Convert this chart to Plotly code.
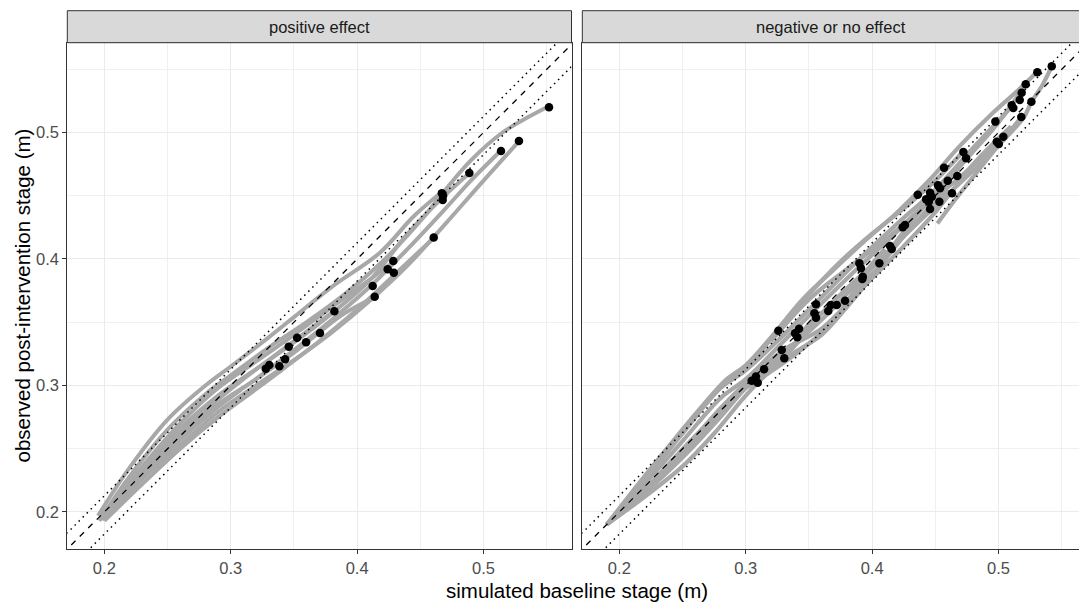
import plotly.graph_objects as go

# ---------------- data ----------------
panel_titles = ["positive effect", "negative or no effect"]
x_title = "simulated baseline stage (m)"
y_title = "observed post-intervention stage (m)"
tick_vals = [0.2, 0.3, 0.4, 0.5]
tick_text = ["0.2", "0.3", "0.4", "0.5"]

# reference band offsets (dotted lines) around the 1:1 line
upper_offset = 0.0128
lower_offset = -0.0175

# positive effect: observed points
pos_x = [0.5518, 0.528, 0.5138, 0.4888, 0.467, 0.4677, 0.468, 0.4606, 0.4286, 0.4242,
         0.429, 0.4123, 0.4139, 0.382, 0.3706, 0.3525, 0.3596, 0.3459, 0.343, 0.3385,
         0.3305, 0.3277]
pos_y = [0.520, 0.4933, 0.4854, 0.468, 0.452, 0.4466, 0.450, 0.417, 0.3984, 0.3919,
         0.3892, 0.3787, 0.3702, 0.3587, 0.3415, 0.3378, 0.3341, 0.3307, 0.3207, 0.3152,
         0.3162, 0.3133]

# positive effect: response curves
p1_x = [0.195, 0.22, 0.25, 0.28, 0.30, 0.33, 0.35, 0.38, 0.418, 0.445, 0.467]
p1_y = [0.197, 0.235, 0.273, 0.300, 0.315, 0.338, 0.354, 0.378, 0.405, 0.434, 0.453]
p2_x = [0.196, 0.22, 0.25, 0.28, 0.30, 0.33, 0.36, 0.39, 0.42, 0.45, 0.47, 0.49, 0.515, 0.535, 0.552]
p2_y = [0.193, 0.228, 0.265, 0.293, 0.308, 0.330, 0.350, 0.372, 0.398, 0.430, 0.455, 0.478, 0.500, 0.512, 0.521]
p3_x = [0.197, 0.23, 0.26, 0.29, 0.32, 0.35, 0.38, 0.41, 0.44, 0.468, 0.489]
p3_y = [0.195, 0.233, 0.266, 0.292, 0.313, 0.334, 0.357, 0.383, 0.420, 0.449, 0.468]
p4_x = [0.198, 0.23, 0.26, 0.29, 0.32, 0.35, 0.38, 0.41, 0.44, 0.47, 0.49, 0.514]
p4_y = [0.194, 0.228, 0.258, 0.285, 0.305, 0.328, 0.352, 0.378, 0.408, 0.440, 0.462, 0.486]
p5_x = [0.20, 0.23, 0.26, 0.29, 0.32, 0.35, 0.38, 0.41, 0.44, 0.47, 0.50, 0.528]
p5_y = [0.194, 0.226, 0.253, 0.279, 0.300, 0.320, 0.342, 0.367, 0.395, 0.428, 0.462, 0.493]
p6_x = [0.20, 0.23, 0.26, 0.29, 0.32, 0.34, 0.37, 0.40, 0.43, 0.461]
p6_y = [0.193, 0.222, 0.250, 0.275, 0.297, 0.312, 0.335, 0.360, 0.388, 0.417]
p7_x = [0.197, 0.23, 0.26, 0.29, 0.32, 0.35, 0.38, 0.405, 0.429]
p7_y = [0.196, 0.236, 0.270, 0.298, 0.319, 0.340, 0.362, 0.380, 0.398]
p8_x = [0.20, 0.23, 0.26, 0.29, 0.31, 0.33, 0.35, 0.37, 0.39, 0.414]
p8_y = [0.195, 0.227, 0.257, 0.283, 0.298, 0.312, 0.326, 0.342, 0.357, 0.370]
p9_x = [0.198, 0.23, 0.26, 0.29, 0.31, 0.33, 0.35, 0.37, 0.382]
p9_y = [0.194, 0.230, 0.262, 0.289, 0.305, 0.320, 0.335, 0.350, 0.359]

# negative or no effect: observed points
neg_x = [0.5421, 0.5307, 0.5215, 0.5183, 0.5168, 0.526, 0.5104, 0.5117, 0.518, 0.4975,
         0.5038, 0.4986, 0.5002, 0.4722, 0.4743, 0.4569, 0.4674, 0.4598, 0.4521, 0.4537,
         0.4632, 0.4361, 0.4458, 0.4472, 0.4427, 0.4448, 0.4532, 0.4458, 0.426, 0.4242,
         0.4142, 0.4155, 0.4057, 0.3899, 0.3912, 0.3926, 0.3922, 0.3786, 0.372, 0.3672,
         0.3653, 0.3556, 0.3543, 0.3556, 0.3258, 0.3422, 0.339, 0.3408, 0.3285, 0.3305,
         0.3145, 0.3047, 0.3095, 0.3081]
neg_y = [0.5523, 0.5476, 0.5381, 0.5315, 0.5257, 0.5244, 0.5215, 0.5194, 0.5123, 0.5086,
         0.4967, 0.4927, 0.4909, 0.4846, 0.4796, 0.4722, 0.4656, 0.4619, 0.4583, 0.4559,
         0.4519, 0.4508, 0.4524, 0.4493, 0.4472, 0.4453, 0.4453, 0.4395, 0.4269, 0.4251,
         0.4103, 0.4079, 0.3966, 0.3966, 0.3926, 0.386, 0.3842, 0.367, 0.3636, 0.3636,
         0.3589, 0.3642, 0.3571, 0.3536, 0.3433, 0.3449, 0.3413, 0.3381, 0.3281, 0.3215,
         0.3128, 0.3038, 0.3022, 0.307]

# negative or no effect: response curves
n1_x = [0.19, 0.215, 0.24, 0.265, 0.285, 0.30, 0.32, 0.345, 0.37, 0.395, 0.42, 0.445, 0.47, 0.495, 0.515, 0.5307]
n1_y = [0.190, 0.222, 0.253, 0.283, 0.305, 0.316, 0.338, 0.368, 0.392, 0.415, 0.437, 0.462, 0.490, 0.515, 0.533, 0.548]
n2_x = [0.19, 0.22, 0.25, 0.28, 0.30, 0.33, 0.36, 0.39, 0.42, 0.45, 0.48, 0.505, 0.52, 0.526, 0.535, 0.542]
n2_y = [0.19, 0.215, 0.243, 0.275, 0.298, 0.325, 0.352, 0.383, 0.413, 0.442, 0.470, 0.495, 0.512, 0.524, 0.538, 0.552]
n3_x = [0.19, 0.22, 0.25, 0.28, 0.30, 0.33, 0.36, 0.39, 0.42, 0.45, 0.48, 0.50, 0.5215]
n3_y = [0.19, 0.222, 0.256, 0.290, 0.305, 0.335, 0.365, 0.394, 0.422, 0.452, 0.485, 0.508, 0.538]
n4_x = [0.19, 0.22, 0.25, 0.275, 0.30, 0.32, 0.34, 0.36, 0.38, 0.40, 0.42, 0.44, 0.46]
n4_y = [0.19, 0.212, 0.236, 0.262, 0.292, 0.312, 0.327, 0.340, 0.362, 0.386, 0.412, 0.435, 0.455]
n5_x = [0.25, 0.28, 0.30, 0.325, 0.35, 0.375, 0.40, 0.425, 0.45, 0.472]
n5_y = [0.262, 0.298, 0.313, 0.343, 0.372, 0.398, 0.420, 0.440, 0.462, 0.485]
n6_x = [0.4516, 0.465, 0.48, 0.50, 0.518]
n6_y = [0.428, 0.446, 0.465, 0.490, 0.512]
n7_x = [0.19, 0.23, 0.26, 0.30, 0.33, 0.36, 0.39, 0.41, 0.44, 0.47, 0.50]
n7_y = [0.19, 0.226, 0.257, 0.300, 0.322, 0.357, 0.386, 0.403, 0.440, 0.465, 0.493]
n8_x = [0.23, 0.26, 0.29, 0.305, 0.33, 0.355, 0.38, 0.392, 0.41]
n8_y = [0.228, 0.260, 0.290, 0.304, 0.322, 0.354, 0.367, 0.386, 0.408]
n9_x = [0.19, 0.22, 0.25, 0.28, 0.30, 0.33, 0.36, 0.39, 0.42, 0.45, 0.48, 0.51]
n9_y = [0.19, 0.225, 0.262, 0.298, 0.312, 0.340, 0.370, 0.400, 0.428, 0.455, 0.488, 0.520]
n10_x = [0.19, 0.22, 0.25, 0.28, 0.30, 0.33, 0.36, 0.39, 0.42, 0.45, 0.48, 0.51]
n10_y = [0.19, 0.218, 0.248, 0.282, 0.302, 0.328, 0.345, 0.375, 0.405, 0.437, 0.475, 0.505]
n11_x = [0.30, 0.33, 0.35, 0.37, 0.39, 0.41]
n11_y = [0.298, 0.318, 0.333, 0.352, 0.378, 0.398]
n12_x = [0.32, 0.35, 0.38, 0.41, 0.43, 0.45]
n12_y = [0.335, 0.368, 0.392, 0.415, 0.432, 0.450]

# ---------------- layout geometry (pixels) ----------------
W, H = 1079, 606
panel_top, panel_bottom = 42.7, 549.0
strip_top = 10.7
left_x0, left_x1 = 67.3, 571.5
right_x0, right_x1 = 582.3, 1079.0
px_per_unit = 1264.0
x_start = 0.1707
y_range = [0.1707, 0.5710]

FONT = "Liberation Sans, Arial, sans-serif"
CURVE_COLOR = "#A8A8A8"


def px(v):
    return v / W


def py(v):
    return (H - v) / H


fig = go.Figure()

pos_curves = [(p1_x, p1_y), (p2_x, p2_y), (p3_x, p3_y), (p4_x, p4_y), (p5_x, p5_y),
              (p6_x, p6_y), (p7_x, p7_y), (p8_x, p8_y), (p9_x, p9_y)]
neg_curves = [(n1_x, n1_y), (n2_x, n2_y), (n3_x, n3_y), (n4_x, n4_y), (n5_x, n5_y),
              (n6_x, n6_y), (n7_x, n7_y), (n8_x, n8_y), (n9_x, n9_y), (n10_x, n10_y),
              (n11_x, n11_y), (n12_x, n12_y)]

for (cx, cy) in pos_curves:
    fig.add_trace(go.Scatter(x=cx, y=cy, mode="lines", line=dict(color=CURVE_COLOR, width=4, shape="spline"),
                             xaxis="x", yaxis="y", hoverinfo="skip", showlegend=False))
for (cx, cy) in neg_curves:
    fig.add_trace(go.Scatter(x=cx, y=cy, mode="lines", line=dict(color=CURVE_COLOR, width=4.2, shape="spline"),
                             xaxis="x2", yaxis="y2", hoverinfo="skip", showlegend=False))

ref_x = [0.10, 0.70]
for xa, ya in [("x", "y"), ("x2", "y2")]:
    fig.add_trace(go.Scatter(x=ref_x, y=ref_x, mode="lines",
                             line=dict(color="black", width=1.3, dash="6px,6px"),
                             xaxis=xa, yaxis=ya, hoverinfo="skip", showlegend=False))
    fig.add_trace(go.Scatter(x=ref_x, y=[v + upper_offset for v in ref_x], mode="lines",
                             line=dict(color="black", width=1.5, dash="1.5px,4.2px"),
                             xaxis=xa, yaxis=ya, hoverinfo="skip", showlegend=False))
    fig.add_trace(go.Scatter(x=ref_x, y=[v + lower_offset for v in ref_x], mode="lines",
                             line=dict(color="black", width=1.5, dash="1.5px,4.2px"),
                             xaxis=xa, yaxis=ya, hoverinfo="skip", showlegend=False))

fig.add_trace(go.Scatter(x=pos_x, y=pos_y, mode="markers", marker=dict(color="black", size=8.5),
                         xaxis="x", yaxis="y", hoverinfo="skip", showlegend=False))
fig.add_trace(go.Scatter(x=neg_x, y=neg_y, mode="markers", marker=dict(color="black", size=8.5),
                         xaxis="x2", yaxis="y2", hoverinfo="skip", showlegend=False))

axis_common = dict(
    tickmode="array", tickvals=tick_vals, ticktext=tick_text,
    showgrid=True, gridcolor="#EBEBEB", gridwidth=1.4,
    minor=dict(tickmode="array", tickvals=[0.15, 0.25, 0.35, 0.45, 0.55],
               showgrid=True, gridcolor="#F0F0F0", gridwidth=0.9, ticks=""),
    showline=True, linecolor="#333333", linewidth=1, mirror=True,
    ticks="outside", ticklen=4, tickcolor="#333333", tickwidth=1,
    tickfont=dict(family=FONT, size=16.5, color="#4D4D4D"),
    zeroline=False, fixedrange=True,
)

left_range = [x_start, x_start + (left_x1 - left_x0) / px_per_unit]
right_range = [x_start, x_start + (right_x1 - right_x0) / px_per_unit]

fig.update_layout(
    width=W, height=H, autosize=False,
    margin=dict(l=0, r=0, t=0, b=0),
    paper_bgcolor="white", plot_bgcolor="white",
    font=dict(family=FONT),
    xaxis=dict(domain=[px(left_x0), px(left_x1)], range=left_range, anchor="y", **axis_common),
    yaxis=dict(domain=[py(panel_bottom), py(panel_top)], range=y_range, anchor="x", **axis_common),
    xaxis2=dict(domain=[px(right_x0), px(right_x1)], range=right_range, anchor="y2", **axis_common),
    yaxis2=dict(domain=[py(panel_bottom), py(panel_top)], range=y_range, anchor="x2",
                **{**axis_common, "showticklabels": False, "ticks": ""}),
)

# facet strips
for (x0, x1), title in zip([(left_x0, left_x1), (right_x0, right_x1 + 1)], panel_titles):
    fig.add_shape(type="rect", xref="paper", yref="paper",
                  x0=px(x0), x1=px(x1), y0=py(panel_top), y1=py(strip_top),
                  fillcolor="#D9D9D9", line=dict(color="#333333", width=1), layer="above")
    fig.add_annotation(xref="paper", yref="paper", x=px((x0 + min(x1, right_x0 + (left_x1 - left_x0))) / 2),
                       y=py((panel_top + strip_top) / 2), text=title, showarrow=False,
                       font=dict(family=FONT, size=16.5, color="#1A1A1A"), xanchor="center", yanchor="middle")

fig.add_annotation(xref="paper", yref="paper", x=px(577), y=py(590), text=x_title, showarrow=False,
                   font=dict(family=FONT, size=20.5, color="black"), xanchor="center", yanchor="middle")
fig.add_annotation(xref="paper", yref="paper", x=px(22), y=py(295.5), text=y_title, showarrow=False,
                   textangle=-90, font=dict(family=FONT, size=20.5, color="black"),
                   xanchor="center", yanchor="middle")

fig.write_html("out.html", config={"displayModeBar": False},
               post_script="document.body.style.margin='0px';document.body.style.overflow='hidden';")
